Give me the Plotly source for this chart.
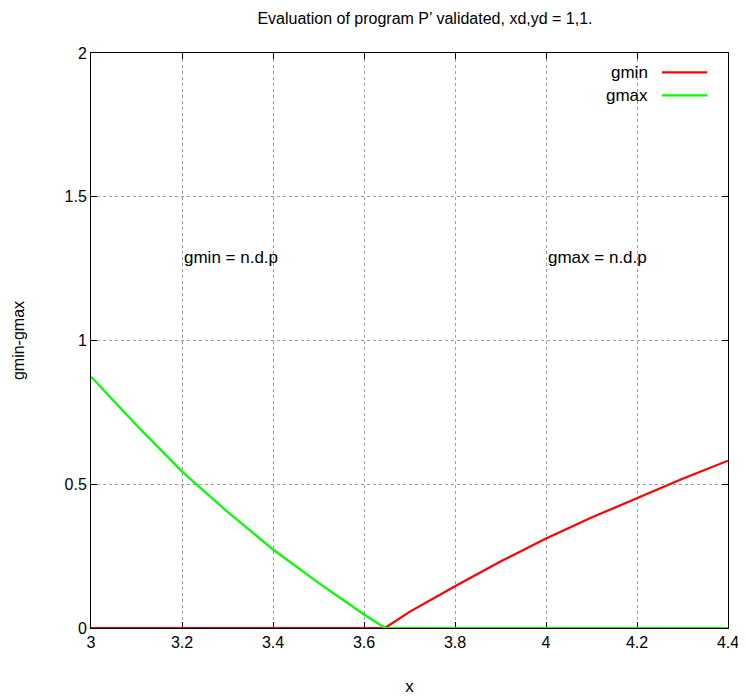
import plotly.graph_objects as go

# x sample points
x_vals = [3.0, 3.1, 3.2, 3.3, 3.4, 3.5, 3.6, 3.646, 3.7, 3.8, 3.9, 4.0, 4.1, 4.2, 4.3, 4.4]
gmin_vals = [0.0, 0.0, 0.0, 0.0, 0.0, 0.0, 0.0, 0.0, 0.056, 0.145, 0.231, 0.311, 0.384, 0.452, 0.519, 0.582]
gmax_vals = [0.874, 0.705, 0.544, 0.404, 0.273, 0.157, 0.047, 0.0, 0.0, 0.0, 0.0, 0.0, 0.0, 0.0, 0.0, 0.0]

series_names = ["gmin", "gmax"]
series_colors = ["#ff0000", "#00ff00"]

x_ticks = [3, 3.2, 3.4, 3.6, 3.8, 4, 4.2, 4.4]
x_tick_labels = ["3", "3.2", "3.4", "3.6", "3.8", "4", "4.2", "4.4"]
y_ticks = [0, 0.5, 1, 1.5, 2]
y_tick_labels = ["0", "0.5", "1", "1.5", "2"]

labels = [("gmin = n.d.p", 3.2, 1.29), ("gmax = n.d.p", 4.0, 1.29)]

FONT = "Liberation Sans, Arial, sans-serif"

fig = go.Figure()
for name, vals, col in zip(series_names, [gmin_vals, gmax_vals], series_colors):
    fig.add_trace(go.Scatter(x=x_vals, y=vals, mode="lines", name=name, cliponaxis=False,
                             line=dict(color=col, width=2.2), showlegend=False))

# gnuplot-style legend: text right, line sample to the right
leg_y = [0.9662, 0.9262]
for name, col, yy in zip(series_names, series_colors, leg_y):
    fig.add_annotation(xref="paper", yref="paper", x=0.8776, y=yy, text=name,
                       showarrow=False, xanchor="right", yanchor="middle",
                       font=dict(family=FONT, size=17, color="black"))
    fig.add_shape(type="line", xref="paper", yref="paper", x0=0.8964, x1=0.967,
                  y0=yy, y1=yy, line=dict(color=col, width=2.2))

for txt, lx, ly in labels:
    fig.add_annotation(x=lx, y=ly, text=txt, showarrow=False, xanchor="left",
                       yanchor="middle", font=dict(family=FONT, size=17, color="black"))

axis_common = dict(showline=True, linecolor="black", linewidth=1, mirror="ticks",
                   ticks="inside", ticklen=6, tickcolor="black", automargin=False,
                   showgrid=True, gridcolor="#a0a0a0", griddash="dot", gridwidth=1,
                   zeroline=False, layer="below traces",
                   tickfont=dict(family=FONT, size=16, color="black"))

fig.update_xaxes(range=[3, 4.4], tickvals=x_ticks, ticktext=x_tick_labels,
                 title=dict(text="x", font=dict(family=FONT, size=17, color="black"), standoff=29),
                 **axis_common)
fig.update_yaxes(range=[0, 2], tickvals=y_ticks, ticktext=y_tick_labels,
                 title=dict(text="gmin-gmax", font=dict(family=FONT, size=16, color="black"), standoff=35),
                 **axis_common)

fig.update_layout(
    width=738, height=689,
    margin=dict(l=83, r=18, t=44.5, b=68.5),
    paper_bgcolor="white", plot_bgcolor="white",
    title=dict(text="Evaluation of program P’ validated, xd,yd = 1,1.",
               x=0.565, xanchor="center", y=0.9855, yanchor="middle",
               font=dict(family=FONT, size=16, color="black")),
)

fig.write_html("out.html")
